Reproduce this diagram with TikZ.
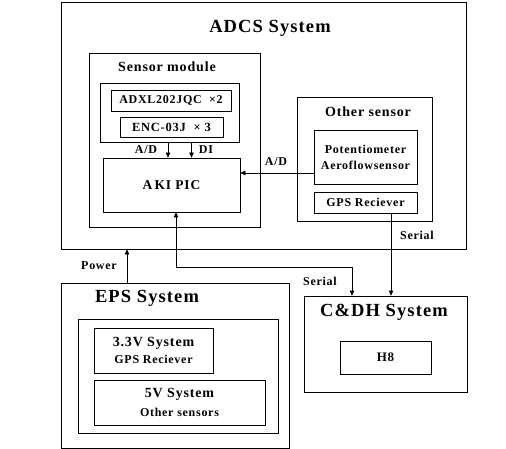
\documentclass[tikz,border=0pt]{standalone}
\usepackage{fontspec}
\setmainfont{Liberation Serif}[LetterSpace=6]
\usetikzlibrary{arrows.meta}
\tikzset{
  sat diagram/.style={font=\bfseries, line width=0.7pt,
    line cap=butt, line join=miter},
  sat box/.style={draw, fill=white, inner sep=0pt, align=center,
    font=\bfseries\fontsize{12}{16}\selectfont},
  sat frame/.style={draw, inner sep=0pt},
  sat title/.style={font=\bfseries\fontsize{18.5}{22}\selectfont},
  sat subtitle/.style={font=\bfseries\fontsize{14}{17}\selectfont},
  sat label/.style={font=\bfseries\fontsize{12}{14}\selectfont},
  sat arrow/.style={-{Triangle[length=5pt,width=4.5pt]}},
  sat both/.style={{Triangle[length=5pt,width=4.5pt]}-{Triangle[length=5pt,width=4.5pt]}}
}

\begin{document}
\begin{tikzpicture}[sat diagram,x=1pt,y=-1pt]
\useasboundingbox (0,0) rectangle (506,449);
% ADCS
\node[sat frame,minimum width=405pt,minimum height=247pt] (adcs) at (263.5,125.5) {};
\node[sat title] (adcstitle) at (270,28) {ADCS System};
\node[sat frame,minimum width=171pt,minimum height=174pt] (sensmod) at (174.5,140) {};
\node[sat subtitle] (sensmodtitle) at (167,67) {Sensor module};
\node[sat frame,minimum width=139pt,minimum height=59pt] (sensgrp) at (169.5,112.5) {};
\node[sat box,minimum width=120pt,minimum height=21pt,font=\bfseries\fontsize{12}{14}\selectfont] (adxl) at (171,100.5) {ADXL202JQC\ \ ×2};
\node[sat box,minimum width=103pt,minimum height=20pt,font=\bfseries\fontsize{12.5}{14}\selectfont] (enc) at (171.5,127) {ENC-03J\ \ ×\ 3};
\node[sat box,minimum width=137pt,minimum height=54pt,font=\bfseries\fontsize{13.5}{16}\selectfont] (aki) at (171.5,185) {A\,KI\ PIC};
\node[sat frame,minimum width=135pt,minimum height=124pt] (othsens) at (364.5,159) {};
\node[sat subtitle] (othsenstitle) at (368,112) {Other sensor};
\node[sat box,minimum width=103pt,minimum height=54pt] (pot) at (365.5,157) {Potentiometer\\Aeroflowsensor};
\node[sat box,minimum width=103pt,minimum height=21pt] (gps) at (365.5,202.5) {GPS Reciever};
% EPS
\node[sat frame,minimum width=228pt,minimum height=165pt] (eps) at (175,365.5) {};
\node[sat title] (epstitle) at (147,298) {EPS System};
\node[sat frame,minimum width=200pt,minimum height=114pt] (epsgrp) at (178,376) {};
\node[sat box,minimum width=119pt,minimum height=45pt] (sys33) at (153.5,350.5)
  {{\fontsize{14}{16}\selectfont 3.3V System}\\[1pt]{\fontsize{12}{14}\selectfont GPS Reciever}};
\node[sat box,minimum width=171pt,minimum height=45pt] (sys5) at (179.5,402.5)
  {{\fontsize{14}{16}\selectfont 5V System}\\[3pt]{\fontsize{12}{14}\selectfont Other sensors}};
% C&DH
\node[sat frame,minimum width=163pt,minimum height=96pt] (cdh) at (385.5,344) {};
\node[sat title] (cdhtitle) at (384,312) {C\&DH System};
\node[sat box,minimum width=91pt,minimum height=33pt,font=\bfseries\fontsize{13}{16}\selectfont] (h8) at (385.5,357.5) {H8};
% connectors
\draw[sat arrow] ([xshift=-3.5pt]aki.north |- sensgrp.south) -- ([xshift=-3.5pt]aki.north);
\draw[sat arrow] ([xshift=20pt]aki.north |- sensgrp.south) -- ([xshift=20pt]aki.north);
\node[sat label] (adlbl) at (146,150) {A/D};
\node[sat label] (dilbl) at (206,150) {DI};
\draw[sat arrow] ([yshift=-16pt]pot.west) -- ([yshift=-16pt]pot.west -| aki.east);
\node[sat label] (adlbl2) at (276,162) {A/D};
\draw[sat arrow] ([xshift=25.5pt]gps.south) -- ([xshift=25.5pt]gps.south |- cdh.north);
\node[sat label] (seriallbl) at (417,235) {Serial};
\draw[sat both] ([xshift=4.5pt]aki.south) -- ++(0,55) -| ([xshift=-33.5pt]cdh.north);
\node[sat label] (seriallbl2) at (320,281) {Serial};
\draw[sat arrow] ([xshift=-48pt]eps.north) -- ([xshift=-48pt]eps.north |- adcs.south);
\node[sat label] (powerlbl) at (99,266) {Power};
\end{tikzpicture}
\end{document}
